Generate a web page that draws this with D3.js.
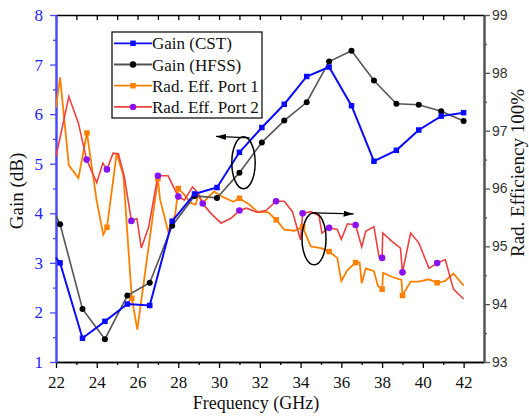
<!DOCTYPE html>
<html>
<head>
<meta charset="utf-8">
<script src="https://cdn.jsdelivr.net/npm/d3@7"></script>
<style>
  body { margin: 0; background: #fff; }
  svg { display: block; }
</style>
</head>
<body>
<div id="chartContainer"></div>
<script>
// gain curves (first point has no marker)
const freqGain = [22, 22.2, 23.3, 24.4, 25.5, 26.6, 27.7, 28.8, 29.9, 31.0, 32.1, 33.2, 34.3, 35.4, 36.5, 37.6, 38.7, 39.8, 40.9, 42.0];
const gainCST = [3.1, 3.0, 1.48, 1.82, 2.17, 2.14, 3.84, 4.39, 4.52, 5.23, 5.73, 6.2, 6.76, 6.95, 6.17, 5.05, 5.27, 5.68, 5.96, 6.03];
const gainHFSS = [3.95, 3.78, 2.07, 1.46, 2.34, 2.6, 3.75, 4.35, 4.31, 4.82, 5.43, 5.87, 6.24, 7.06, 7.28, 6.68, 6.21, 6.19, 6.06, 5.86];

// radiation efficiency, port 1
const freqPort1 = [22.0, 22.2, 22.63, 23.1, 23.52, 23.99, 24.32, 24.5, 24.98, 25.31, 25.72, 25.99, 27.0, 27.1, 27.5, 27.85, 28.0,
  28.3, 28.6, 28.85, 29.0, 29.2, 29.75, 30.2, 30.7, 31.0, 31.5, 31.9, 32.4, 32.8, 33.2, 33.7, 34.1, 34.5, 35.0, 35.4, 35.8,
  36.0, 36.3, 36.7, 36.9, 37.0, 37.2, 37.6, 37.8, 38.0, 38.05, 38.5, 38.95, 39.0, 39.4, 39.8, 40.3, 40.7, 41.1, 41.5, 42.0];
const effPort1 = [97.4, 97.92, 96.4, 96.18, 96.96, 95.8, 95.2, 95.33, 96.61, 96.21, 94.1, 93.56, 96.17, 95.82, 95.26, 95.55, 96.0,
  95.89, 95.75, 95.72, 95.9, 95.75, 95.95, 95.85, 95.77, 95.83, 95.72, 95.59, 95.59, 95.46, 95.29, 95.27, 95.34, 95.0, 94.97, 94.91, 94.8,
  94.4, 94.59, 94.72, 94.72, 94.36, 94.62, 94.57, 94.31, 94.26, 94.54, 94.47, 94.42, 94.15, 94.39, 94.39, 94.43, 94.37, 94.4, 94.53, 94.32];
const markPort1 = [23.52, 24.5, 25.72, 27.0, 28.0, 31.0, 32.8, 34.1, 35.4, 36.7, 38.0, 39.0, 40.7];

// radiation efficiency, port 2
const freqPort2 = [22.0, 22.63, 23.1, 23.5, 24.0, 24.3, 24.5, 24.8, 25.06, 25.35, 25.7, 25.97, 26.19, 26.55, 27.0, 27.5, 28.0,
  28.3, 28.7, 28.9, 29.2, 29.6, 30.1, 30.6, 31.0, 31.35, 31.85, 32.3, 32.8, 33.2, 33.6, 34.0, 34.1, 34.5, 34.9, 35.05, 35.4,
  35.8, 36.0, 36.3, 36.7, 37.0, 37.2, 37.6, 37.85, 38.0, 38.03, 38.5, 38.9, 39.0, 39.4, 39.8, 40.3, 40.7, 41.1, 41.5, 42.0];
const effPort2 = [96.55, 97.59, 97.13, 96.5, 96.1, 96.44, 96.33, 96.61, 96.6, 96.21, 95.44, 95.48, 94.97, 95.34, 96.22, 96.22, 95.86,
  95.8, 96.03, 95.95, 95.74, 95.57, 95.4, 95.49, 95.62, 95.66, 95.59, 95.62, 95.78, 95.78, 95.6, 95.11, 95.57, 95.6, 95.53, 95.23, 95.32,
  95.29, 95.12, 95.39, 95.37, 94.99, 95.26, 95.34, 94.82, 94.8, 95.23, 95.08, 94.97, 94.55, 95.23, 95.06, 94.62, 94.71, 94.77, 94.26, 94.09];
const markPort2 = [23.5, 24.5, 25.7, 27.0, 28.0, 29.2, 31.0, 32.8, 34.1, 35.4, 36.7, 38.0, 39.0, 40.7];

const xTicks = [22, 24, 26, 28, 30, 32, 34, 36, 38, 40, 42];
const gainTicks = [1, 2, 3, 4, 5, 6, 7, 8];
const effTicks = [93, 94, 95, 96, 97, 98, 99];

const W = 529, H = 416;
const margin = { top: 15, right: 45, bottom: 54, left: 56 };
const blue = "#0a0aff", grey = "#555", orange = "#ff8000", red = "#ef4040", purple = "#8a10f5";
const serif = "'Liberation Serif', 'Times New Roman', serif";

const svg = d3.select("#chartContainer").append("svg").attr("width", W).attr("height", H);

const x = d3.scaleLinear().domain([22, 43]).range([margin.left, W - margin.right]);
const yG = d3.scaleLinear().domain([1, 8]).range([H - margin.bottom, margin.top]);
const yE = d3.scaleLinear().domain([93, 99]).range([H - margin.bottom, margin.top]);

// axes
function styleAxis(g, color, width) {
  g.select(".domain").attr("stroke", color).attr("stroke-width", width);
  g.selectAll(".tick line").attr("stroke", color).attr("stroke-width", 1.3);
}

// top border with inward ticks
svg.append("g").attr("transform", "translate(0," + margin.top + ")")
  .call(d3.axisBottom(x).tickValues(d3.range(22, 43, 1)).tickSize(5).tickSizeOuter(0).tickFormat(""))
  .call((g) => styleAxis(g, "#000", 1.5));

// bottom
svg.append("g").attr("transform", "translate(0," + (H - margin.bottom) + ")")
  .call(d3.axisBottom(x).tickValues(d3.range(23, 43, 2)).tickSize(3).tickSizeOuter(0).tickFormat(""))
  .call((g) => styleAxis(g, "#000", 1.5));
const xAxis = svg.append("g").attr("transform", "translate(0," + (H - margin.bottom) + ")")
  .call(d3.axisBottom(x).tickValues(xTicks).tickSize(6).tickSizeOuter(0).tickPadding(8).tickFormat(d3.format("d")))
  .call((g) => styleAxis(g, "#000", 1.5));
xAxis.selectAll("text").attr("font-family", serif).attr("font-size", 17).attr("fill", "#111");

// left (gain)
svg.append("g").attr("transform", "translate(" + margin.left + ",0)")
  .call(d3.axisLeft(yG).tickValues(d3.range(1.5, 8, 1)).tickSize(3).tickSizeOuter(0).tickFormat(""))
  .call((g) => styleAxis(g, "#4a4aff", 2));
const yAxisL = svg.append("g").attr("transform", "translate(" + margin.left + ",0)")
  .call(d3.axisLeft(yG).tickValues(gainTicks).tickSize(6).tickSizeOuter(0).tickPadding(7).tickFormat(d3.format("d")))
  .call((g) => styleAxis(g, "#4a4aff", 2));
yAxisL.selectAll("text").attr("font-family", serif).attr("font-size", 17).attr("fill", "#2222ff");

// right (efficiency)
const xr = W - margin.right;
svg.append("g").attr("transform", "translate(" + xr + ",0)")
  .call(d3.axisRight(yE).tickValues(d3.range(93.5, 99, 1)).tickSize(3).tickSizeOuter(0).tickFormat(""))
  .call((g) => styleAxis(g, grey, 2));
const yAxisR = svg.append("g").attr("transform", "translate(" + xr + ",0)")
  .call(d3.axisRight(yE).tickValues(effTicks).tickSize(6).tickSizeOuter(0).tickPadding(2).tickFormat(d3.format("d")))
  .call((g) => styleAxis(g, grey, 2));
yAxisR.selectAll("text").attr("font-family", "'Liberation Sans', Arial, sans-serif").attr("font-size", 14).attr("fill", "#333");

// axis titles
svg.append("text").attr("x", 256).attr("y", 409).attr("text-anchor", "middle")
  .attr("font-family", serif).attr("font-size", 18).attr("fill", "#111").text("Frequency (GHz)");
svg.append("text").attr("transform", "translate(23,191) rotate(-90)").attr("text-anchor", "middle")
  .attr("font-family", serif).attr("font-size", 19).attr("fill", "#111").text("Gain (dB)");
svg.append("text").attr("transform", "translate(524,173) rotate(-90)").attr("text-anchor", "middle")
  .attr("font-family", serif).attr("font-size", 19).attr("fill", "#111").text("Rad. Efficiency 100%");

// curves
const gainCSTData = freqGain.map((f, i) => ({ f, v: gainCST[i] }));
const gainHFSSData = freqGain.map((f, i) => ({ f, v: gainHFSS[i] }));
const port1Data = freqPort1.map((f, i) => ({ f, v: effPort1[i] }));
const port2Data = freqPort2.map((f, i) => ({ f, v: effPort2[i] }));

const lineG = d3.line().x((d) => x(d.f)).y((d) => yG(d.v));
const lineE = d3.line().x((d) => x(d.f)).y((d) => yE(d.v));

svg.append("path").datum(port1Data).attr("d", lineE).attr("fill", "none").attr("stroke", orange).attr("stroke-width", 1.8);
svg.append("path").datum(port2Data).attr("d", lineE).attr("fill", "none").attr("stroke", red).attr("stroke-width", 1.6);
svg.append("path").datum(gainHFSSData).attr("d", lineG).attr("fill", "none").attr("stroke", grey).attr("stroke-width", 1.6);
svg.append("path").datum(gainCSTData).attr("d", lineG).attr("fill", "none").attr("stroke", blue).attr("stroke-width", 2);

// markers
const sq = 5.5;
svg.append("g").selectAll("rect").data(port1Data.filter((d) => markPort1.includes(d.f))).enter().append("rect")
  .attr("x", (d) => x(d.f) - sq / 2).attr("y", (d) => yE(d.v) - sq / 2)
  .attr("width", sq).attr("height", sq).attr("fill", orange);
svg.append("g").selectAll("circle").data(port2Data.filter((d) => markPort2.includes(d.f))).enter().append("circle")
  .attr("cx", (d) => x(d.f)).attr("cy", (d) => yE(d.v)).attr("r", 3.3).attr("fill", purple);
svg.append("g").selectAll("circle").data(gainHFSSData.slice(1)).enter().append("circle")
  .attr("cx", (d) => x(d.f)).attr("cy", (d) => yG(d.v)).attr("r", 3).attr("fill", "#000");
svg.append("g").selectAll("rect").data(gainCSTData.slice(1)).enter().append("rect")
  .attr("x", (d) => x(d.f) - sq / 2).attr("y", (d) => yG(d.v) - sq / 2)
  .attr("width", sq).attr("height", sq).attr("fill", blue);

// annotations: ellipses with arrows pointing at the axis each group belongs to
svg.append("defs").append("marker").attr("id", "arrow")
  .attr("viewBox", "0 0 10 6").attr("refX", 10).attr("refY", 3)
  .attr("markerWidth", 10).attr("markerHeight", 6).attr("markerUnits", "userSpaceOnUse")
  .attr("orient", "auto")
  .append("path").attr("d", "M0,0L10,3L0,6Z").attr("fill", "#000");

svg.append("ellipse").attr("cx", x(31.2)).attr("cy", yG(5.02)).attr("rx", 11.7).attr("ry", 26)
  .attr("fill", "none").attr("stroke", "#000").attr("stroke-width", 1.5);
svg.append("line").attr("x1", x(31.5)).attr("y1", yG(5.52)).attr("x2", x(29.85)).attr("y2", yG(5.55))
  .attr("stroke", "#000").attr("stroke-width", 1.2).attr("marker-end", "url(#arrow)");

svg.append("ellipse").attr("cx", x(34.66)).attr("cy", yE(95.13)).attr("rx", 12).attr("ry", 26)
  .attr("fill", "none").attr("stroke", "#000").attr("stroke-width", 1.5);
svg.append("line").attr("x1", x(34.63)).attr("y1", yE(95.58)).attr("x2", x(36.6)).attr("y2", yE(95.56))
  .attr("stroke", "#000").attr("stroke-width", 1.2).attr("marker-end", "url(#arrow)");

// legend
const legendItems = [
  { name: "Gain (CST)", color: blue, mark: "square", markColor: blue },
  { name: "Gain (HFSS)", color: grey, mark: "circle", markColor: "#000" },
  { name: "Rad. Eff. Port 1", color: orange, mark: "square", markColor: orange },
  { name: "Rad. Eff. Port 2", color: red, mark: "circle", markColor: purple }
];
const legend = svg.append("g").attr("id", "legend");
legend.append("rect").attr("x", 112).attr("y", 32).attr("width", 150).attr("height", 86)
  .attr("fill", "#fff").attr("stroke", "#000").attr("stroke-width", 1.2);
legendItems.forEach((d, i) => {
  const yy = 43.3 + i * 21.2;
  legend.append("line").attr("x1", 114).attr("x2", 152).attr("y1", yy).attr("y2", yy)
    .attr("stroke", d.color).attr("stroke-width", 1.8);
  if (d.mark === "square") {
    legend.append("rect").attr("x", 133 - sq / 2).attr("y", yy - sq / 2).attr("width", sq).attr("height", sq).attr("fill", d.markColor);
  } else {
    legend.append("circle").attr("cx", 133).attr("cy", yy).attr("r", 3.2).attr("fill", d.markColor);
  }
  legend.append("text").attr("x", 152).attr("y", yy + 6).attr("font-family", serif).attr("font-size", 17)
    .attr("fill", "#111").text(d.name);
});
</script>
</body>
</html>
